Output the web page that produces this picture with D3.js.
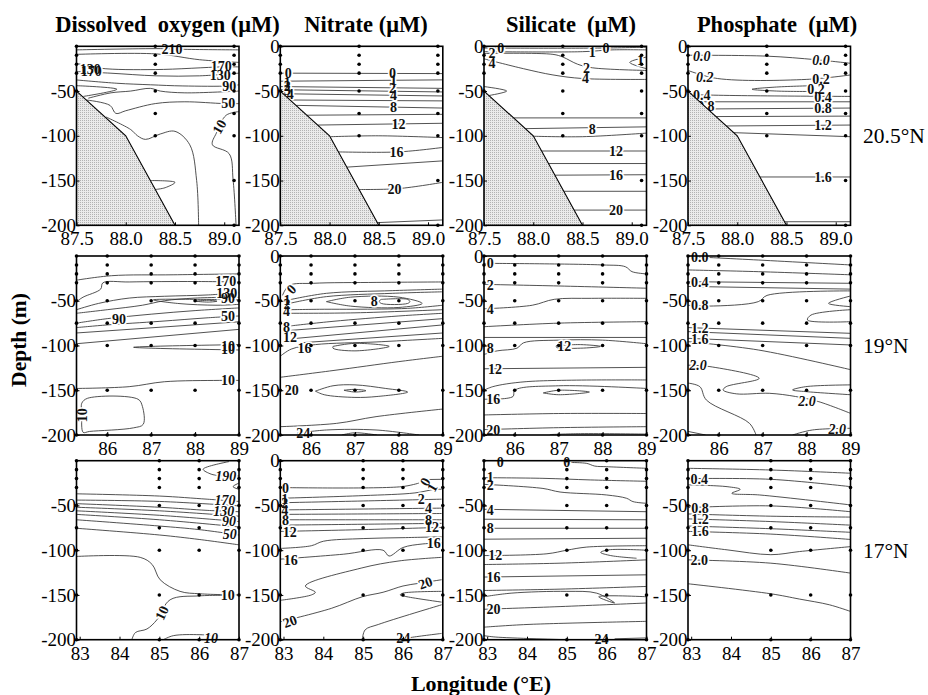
<!DOCTYPE html>
<html><head><meta charset="utf-8">
<script src="https://cdn.jsdelivr.net/npm/d3@7"></script>
<style>body{margin:0;background:#fff}svg{display:block}</style>
</head><body>
<svg id="chart" width="928" height="695"></svg>
<script>
// ---------------- DATA ----------------
const columnTitles = ["Dissolved  oxygen (μM)", "Nitrate (μM)", "Silicate  (μM)", "Phosphate  (μM)"];
const rowLatitudes = ["20.5°N", "19°N", "17°N"];
const lonDomains = [[87.5, 89.15], [85.3, 89], [82.92, 87]];
const lonTicks = [[87.5, 88.0, 88.5, 89.0], [86, 87, 88, 89], [83, 84, 85, 86, 87]];
const lonTickFormats = [".1f", "d", "d"];
const depthTicks = [0, 50, 100, 150, 200];
const zeroTickShown = [[false, true, true, true], [false, true, true, false], [false, true, false, false]];
const stationLons = [[87.5, 88.3, 89.1], [85.3, 86, 87, 88, 89], [82.92, 85, 86, 87]];
const stationDepths = [
  [[0, 10, 20, 30, 50], [0, 10, 20, 30, 50, 75, 100], [0, 10, 20, 30, 50, 75, 100, 150, 200]],
  [[0, 10, 20, 30, 50, 75, 100, 150, 200], [0, 10, 20, 30, 50, 75, 100, 150, 200], [0, 10, 20, 30, 50, 75, 100, 150, 200], [0, 10, 20, 30, 50, 75, 100, 150, 200], [0, 10, 20, 30, 50, 75, 100, 150, 200]],
  [[0, 10, 20, 30, 50, 75, 100, 150, 200], [0, 10, 20, 30, 50, 75, 100, 150, 200], [0, 10, 20, 30, 50, 75, 100, 150, 200], [0, 10, 20, 30, 50, 75, 100, 150, 200]]
];
const shelfProfileN205 = [[87.5, 50], [88.0, 100], [88.5, 200]];

// contour lines: [lon, depth(m)]
const oxygenN205 = [
  [[87.5,4],[88.35,2.6],[88.6,3.4],[89.15,4]],
  [[87.5,9],[88.31,8.5],[88.75,15],[89.15,18]],
  [[87.5,19],[87.74,24.5],[88.3,26],[88.98,23],[89.15,23]],
  [[87.5,28.3],[87.84,30],[88.31,33],[88.75,33],[89.15,30]],
  [[87.5,37.6],[87.91,41.3],[88.25,43],[88.58,44.3],[89.05,44.3],[89.15,43]],
  [[87.5,44],[87.91,48],[87.57,56]],
  [[87.62,58],[87.85,52],[88.05,50],[88.25,47],[88.35,50],[88.6,52],[89.15,50]],
  [[87.6,60],[87.84,66],[87.9,75],[88.0,72],[88.3,64],[88.6,62],[89.0,64],[89.15,64]],
  [[87.8,79],[88.05,93],[88.12,100],[88.2,104],[88.35,98],[88.5,95],[88.65,110],[88.72,150],[88.74,200]],
  [[89.15,73],[89.02,77],[88.92,97],[88.88,110],[89.05,120],[89.09,149],[89.12,200]],
  [[88.25,150],[88.5,152],[88.4,158],[88.3,160]]
];
const oxygenN205Labels = [
  [88.47,3,"210"],[88.97,22.5,"170"],[88.96,32,"130"],[89.05,44.5,"90"],[89.04,64,"50"],
  [88.95,90,"10",-60],[87.64,25.5,"130"],[87.65,27.5,"170"]
];

const nitrateN205 = [
  [[87.5,30],[89.15,30.5]],
  [[87.5,39],[89.15,37.5]],
  [[87.5,45],[89.15,47]],
  [[87.5,48.5],[89.15,51]],
  [[87.53,53],[89.15,55.5]],
  [[87.6,60],[89.15,61]],
  [[87.66,66],[89.15,69]],
  [[87.77,77],[89.15,76]],
  [[87.88,88],[89.15,86]],
  [[88.01,101],[88.5,100],[89.15,102]],
  [[88.09,118],[88.7,118],[89.15,113]],
  [[88.175,135],[89.15,128]],
  [[88.3,160],[88.7,159],[89.15,152]],
  [[88.485,197],[89.15,194]]
];
const nitrateN205Labels = [
  [87.58,30,"0"],[88.64,30,"0"],[87.57,39.5,"1"],[88.65,38,"1"],[87.57,44.5,"2"],[88.64,46.5,"2"],
  [87.57,48.5,"3"],[87.6,53,"4"],[88.65,54,"4"],[88.65,67.5,"8"],[88.7,86.8,"12"],[88.68,118,"16"],[88.66,159.3,"20"]
];

const silicateN205 = [
  [[87.5,2],[88.65,2],[89.15,1]],
  [[87.5,6],[88.5,6],[88.8,4],[89.15,4]],
  [[89.15,12],[88.98,18],[89.15,25]],
  [[87.5,8],[88.2,9],[88.3,12],[88.45,20],[88.6,24],[89.15,27]],
  [[87.5,14],[87.9,25],[88.2,32],[88.5,36],[89.15,37]],
  [[87.5,45],[87.73,50],[87.55,55]],
  [[87.8,80],[89.15,80]],
  [[87.92,92],[89.15,90]],
  [[88.0,100.5],[88.5,101],[89.15,97]],
  [[88.085,117],[89.15,117]],
  [[88.155,131],[89.15,131]],
  [[88.22,144],[89.15,143.5]],
  [[88.31,162],[89.15,162]],
  [[88.415,183],[89.15,183]]
];
const silicateN205Labels = [
  [87.67,2,"0"],[88.74,2,"0"],[88.6,6,"1"],[89.09,15,"1"],[87.58,7.5,"2"],[88.54,24.5,"2"],
  [87.58,19,"4"],[88.53,36,"4"],[88.6,92,"8"],[88.84,117,"12"],[88.84,143.5,"16"],[88.84,183,"20"]
];

const phosphateN205 = [
  [[87.5,10],[88.3,11],[88.8,15],[89.15,19]],
  [[87.5,27],[87.8,36],[88.7,37],[89.15,32]],
  [[88.78,44],[88.4,45.5],[88.15,48],[88.4,50],[88.78,50.5]],
  [[87.53,53],[87.6,54],[89.15,56]],
  [[87.62,62],[89.15,62]],
  [[87.7,70],[89.15,69]],
  [[87.785,78.5],[89.15,78]],
  [[87.89,89],[89.15,88]],
  [[87.965,96.5],[89.15,101]],
  [[88.23,146],[89.15,146]],
  [[88.48,196],[89.15,196]]
];
const phosphateN205Labels = [
  [87.64,11.5,"0.0",0,1],[88.85,15,"0.0",0,1],[87.67,34,"0.2",0,1],[88.85,37,"0.2"],[88.8,48,"0.2"],
  [87.64,54,"0.4"],[88.87,57,"0.4"],[87.68,67,"0.8"],[88.87,69,"0.8"],[88.87,88.5,"1.2"],[88.87,146,"1.6"]
];

const oxygenN19 = [
  [[85.3,27],[86.1,22],[87.5,21],[89,20]],
  [[85.3,51],[85.45,46],[85.85,37],[85.9,30],[86.5,29],[88,28.5],[89,29]],
  [[85.3,60],[85.8,53],[86.5,47],[87.3,45],[88.3,43.5],[89,41]],
  [[85.3,64],[86,60],[86.8,55],[87.3,50],[88,47],[89,46]],
  [[89,49],[88.2,48.5],[87.05,49],[87.6,53],[88.5,55],[89,54]],
  [[88,50.5],[88.3,49.5],[88.5,50.5],[88.3,51.5],[88,50.5]],
  [[85.3,75],[86,70],[87,65],[88,61],[89,58]],
  [[85.3,80],[86,77],[87.2,73],[88.3,69],[89,67]],
  [[85.3,86],[89,73.5]],
  [[85.3,98],[89,82]],
  [[89,99],[87,101],[86.6,102],[87,103],[89,105]],
  [[85.3,148],[86.5,146],[87.3,140.5],[88.55,139],[89,139]],
  [[85.42,175],[85.42,164.5],[85.55,159],[86.7,160],[86.8,168],[86.82,188],[86.6,192],[85.6,196],[85.45,197],[85.42,182]]
];
const oxygenN19Labels = [
  [88.7,28,"170"],[88.72,42,"130"],[88.75,47.5,"90"],[86.27,70.5,"90"],[88.75,67.5,"50"],
  [88.75,100.5,"10"],[88.75,104,"10"],[88.75,139,"10"],[85.42,178,"10",-90]
];

const nitrateN19 = [
  [[85.35,44],[85.5,33],[86.05,30.5],[87.5,29.5],[89,29]],
  [[85.5,49],[86.35,41.7],[87.85,38.7],[89,37]],
  [[85.5,53],[86.35,45.4],[87.85,41.7],[89,40]],
  [[85.5,60],[86.3,59.5],[87,59.5],[88.2,58.5],[89,55]],
  [[86.35,51],[86.9,46],[88,46],[88.53,53],[88,57.5],[86.9,56],[86.35,51]],
  [[87.6,48.5],[88.2,48.5],[88.25,51],[88.2,53],[87.6,53],[87.55,50.5],[87.6,48.5]],
  [[85.5,64],[87,63.5],[89,60]],
  [[85.55,78],[86.5,73],[88,67],[89,64]],
  [[85.55,83],[89,70]],
  [[85.67,92],[89,77]],
  [[85.75,97],[89,86]],
  [[85.3,112],[85.55,104],[86.1,99],[87.5,96],[89,92]],
  [[86.5,101],[87,97.6],[87.78,101],[87,106],[86.5,103],[86.5,101]],
  [[85.3,135.5],[86.5,128],[88,118],[89,112]],
  [[86.1,151],[86.5,145],[87,144],[87.7,148],[88.2,152],[87.5,157],[87,158],[86.3,155],[86.1,151]],
  [[86.75,150],[87,149],[87.25,150.5],[87,152],[86.75,150]],
  [[85.3,190.7],[86.58,187],[87.48,179.5],[89,171]],
  [[85.68,198],[86.35,194.4],[87.48,194.4],[88.46,200]],
  [[86.7,200],[87,197.5],[87.5,200]]
];
const nitrateN19Labels = [
  [85.55,37,"0",-45],[85.45,49.5,"1"],[85.45,53.5,"2"],[85.44,61,"4"],[87.44,50,"8"],[85.44,79,"8"],
  [85.52,91,"12"],[85.85,102.5,"16"],[85.56,150,"20"],[85.82,197.5,"24"]
];

const silicateN19 = [
  [[85.3,8.2],[88,10],[88.52,12],[88.67,17.5],[89,20]],
  [[85.3,31.7],[87,33.5],[89,36]],
  [[85.3,59],[86.4,55],[86.9,48.4],[87.75,47.3],[89,47.3]],
  [[85.3,79],[87,75],[89,73.4]],
  [[85.3,91],[89,91]],
  [[85.3,110],[85.6,106],[86.05,103],[86.2,97],[87,94],[88,94],[89,98]],
  [[86.95,100],[87.5,99],[87.95,101],[87.5,103],[86.95,102],[86.95,100]],
  [[85.3,126],[89,124.4]],
  [[85.3,150],[85.5,146],[86.26,140.4],[89,138.5]],
  [[85.3,160],[85.96,157],[86,150],[87,145],[89,148]],
  [[86.65,153],[87,150],[87.7,152],[87,155],[86.65,153]],
  [[85.3,177.6],[87,176],[89,176]],
  [[85.3,194],[87,191.8],[89,190.7]],
  [[86.8,199.5],[87.5,198.5],[89,199]]
];
const silicateN19Labels = [
  [85.44,8.2,"0"],[85.44,32.4,"2"],[85.44,59.6,"4"],[85.44,102.4,"8"],[87.13,101,"12"],
  [85.55,126,"12"],[85.51,160,"16"],[85.51,194,"20"]
];

const phosphateN19 = [
  [[85.3,0.5],[86.9,4.5],[89,10]],
  [[85.3,15.6],[86.9,17.5],[89,21]],
  [[85.3,28.7],[89,30.5]],
  [[85.3,34],[89,37]],
  [[85.3,55],[85.76,56],[86.9,51],[87.1,44],[89,39]],
  [[89,44.7],[88.5,52.9],[89,56.6]],
  [[89,60],[88.1,66],[88.02,71.5],[89,73.4]],
  [[85.3,80],[89,86.4]],
  [[85.3,84.5],[89,92]],
  [[85.3,92],[89,99.4]],
  [[85.3,95.7],[86.9,105],[89,127]],
  [[85.3,122],[85.8,123.6],[86.92,136.7],[86.17,146],[86.1,149.7],[86.4,154],[87.15,153.4],[87.75,157],[88.28,162.8],[89,175.8]],
  [[89,144],[87.98,146],[87.68,149.7],[87.98,151.5],[89,155]],
  [[85.3,142],[85.57,146],[85.72,161],[86.7,187],[86.85,200]],
  [[87.68,200],[88.13,194.4],[89,192.5]],
  [[85.3,196],[85.7,200]]
];
const phosphateN19Labels = [
  [85.57,1,"0.0"],[85.57,28.7,"0.4"],[85.57,55,"0.8"],[85.57,81,"1.2"],[85.57,93,"1.6"],
  [85.53,122,"2.0",0,1],[88.01,162.5,"2.0",0,1],[88.7,193.5,"2.0",0,1]
];

const oxygenN17 = [
  [[86.75,1],[86.1,9.5],[86.3,15],[86.5,16.5],[87,17]],
  [[87,25],[86.85,29],[87,32]],
  [[82.92,37],[85,39.5],[86.2,43],[87,45.5]],
  [[82.92,44],[85,45.5],[87,50.5]],
  [[82.92,48],[85,52],[86.2,55.5],[87,57]],
  [[82.92,52],[85,56],[87,62]],
  [[82.92,56],[85,61],[87,68]],
  [[82.92,60],[85,66],[87,74]],
  [[82.92,66],[85,73],[86,77],[87,83]],
  [[82.92,75.5],[85,83],[86,88],[87,94]],
  [[82.92,107],[84.52,108],[84.82,116],[85.02,133],[85.52,146],[86.02,148.7],[87,150]],
  [[84.31,200],[84.4,192],[84.69,188],[84.94,177.7],[85.27,155.4],[86.02,151],[86.85,150.5]],
  [[85.1,200],[85.35,195.5],[86.02,194.4],[86.5,196]]
];
const oxygenN17Labels = [
  [86.67,17,"190",0,1],[86.65,44,"170",0,1],[86.62,56.5,"130",0,1],[86.75,67,"90",0,1],[86.77,82,"50",0,1],
  [86.72,150,"10"],[85.06,170,"10",-65],[86.3,198.5,"10",0,1]
];

const nitrateN17 = [
  [[82.92,30],[85.97,29],[86.4,25]],
  [[86.65,21],[86.97,20.8]],
  [[82.92,42],[85,39],[86.3,36],[86.8,32],[86.97,32]],
  [[82.92,47],[85,45],[86.97,43]],
  [[82.92,55],[85,54],[86.97,53]],
  [[82.92,60],[85,59.5],[86.97,59]],
  [[82.92,66],[85,66],[86.97,66]],
  [[82.92,72],[85,71],[86.97,70]],
  [[82.92,79],[85,77],[86.97,74.5]],
  [[82.92,98],[83.7,95],[84,90],[85,87],[86,86],[86.97,85]],
  [[82.92,110],[84.5,104.5],[85.5,100],[85.65,106.5],[86,97],[86.5,93],[86.97,92]],
  [[82.92,156],[83.7,150],[83.8,147],[83.55,140],[84.95,120],[85.9,112],[86.97,108]],
  [[82.92,180],[84.2,165],[84.98,152],[85.5,147],[86,140],[86.4,137],[86.97,133]],
  [[86.97,146],[86,148],[85.93,150],[86.1,152],[86.97,158]],
  [[84.98,200],[85.05,189],[85.38,183],[86.97,161]],
  [[85.9,200],[86.2,197.5],[86.97,193]]
];
const nitrateN17Labels = [
  [83.05,30.5,"0"],[86.55,23.5,"0",-60],[83.03,43,"1"],[86.73,30,"1",-60],[83.03,47.5,"2"],[86.46,43,"2"],
  [83.03,55,"4"],[86.64,53,"4"],[83.05,66,"8"],[86.64,66,"8"],[83.16,80,"12"],[86.73,74.5,"12"],
  [83.18,110.8,"16"],[86.77,92,"16"],[83.16,179.5,"20",-20],[86.56,136.5,"20",-20],[86.01,198,"24"]
];

const silicateN17 = [
  [[85.1,2],[85.5,3],[85.7,6],[86,6.7],[87,8.5]],
  [[82.92,19],[84.4,19.7],[85.6,21.5],[87,23]],
  [[82.92,26.4],[84.4,31],[84.83,35],[86,38.3],[86.5,42],[86.66,45.7],[87,47.6]],
  [[82.92,54.3],[87,57]],
  [[82.92,65.4],[87,66]],
  [[82.92,75.5],[87,75.5]],
  [[82.92,87.7],[87,86.6]],
  [[82.92,106],[84.5,104],[85,100],[85.5,96.5],[87,95]],
  [[87,100],[86.05,99.6],[85.85,102.5],[86.1,106],[86.75,109]],
  [[82.92,116],[84.83,114.5],[87,110.8]],
  [[82.92,130],[87,127.5]],
  [[82.92,145],[84.83,143.5],[87,140.5]],
  [[82.92,152],[83.6,148],[85,146],[85.75,148],[86.2,159],[85.8,152],[87,152]],
  [[82.92,166],[84.83,163],[87,159]],
  [[82.92,186],[84,183],[87,179.5]],
  [[82.92,195.5],[83.2,197],[85,200]],
  [[86.2,199],[87,198]]
];
const silicateN17Labels = [
  [83.33,1.5,"0"],[85.0,1.5,"0"],[83.08,18.5,"1"],[83.08,27,"2"],[83.08,55,"4"],[83.08,75.5,"8"],
  [83.2,106,"12"],[83.16,130,"16"],[83.16,166,"20"],[85.87,199,"24"]
];

const phosphateN17 = [
  [[82.92,8.5],[85,10.4],[87,14]],
  [[82.92,20],[85,20.8],[87,29]],
  [[82.92,27],[83.9,29],[84.23,32],[84.02,36.4],[84.72,38.3],[87,49.4]],
  [[82.92,52.4],[85,50.5],[87,57]],
  [[82.92,59.5],[85,62],[87,63]],
  [[82.92,65],[85,68],[87,72]],
  [[82.92,73],[85,76],[87,80]],
  [[82.92,79],[85,82],[87,88]],
  [[82.92,94],[83.9,99.6],[85,105],[85.72,101.5],[87,96]],
  [[82.92,110.8],[85,114.5],[87,125.6]],
  [[82.92,137.5],[85,148.7],[85.72,154.6],[86.47,161],[87,168.4]]
];
const phosphateN17Labels = [
  [83.2,20.8,"0.4"],[83.22,53,"0.8"],[83.22,65,"1.2"],[83.22,79,"1.6"],[83.2,111,"2.0"]
];

const panelLines = [
  [oxygenN205, nitrateN205, silicateN205, phosphateN205],
  [oxygenN19, nitrateN19, silicateN19, phosphateN19],
  [oxygenN17, nitrateN17, silicateN17, phosphateN17]
];
const panelLabels = [
  [oxygenN205Labels, nitrateN205Labels, silicateN205Labels, phosphateN205Labels],
  [oxygenN19Labels, nitrateN19Labels, silicateN19Labels, phosphateN19Labels],
  [oxygenN17Labels, nitrateN17Labels, silicateN17Labels, phosphateN17Labels]
];

// ---------------- LAYOUT ----------------
const colLeft = [76.5, 280.3, 484, 688], panelW = 162.5;
const rowTop = [46.3, 256, 460.7], panelH = 179;
const titleX = [167.5, 366, 571, 777];
const serif = "'Liberation Serif','Times New Roman',serif";

const svg = d3.select("#chart");
const defs = svg.append("defs");
const pat = defs.append("pattern").attr("id", "shelfFill")
  .attr("width", 2).attr("height", 2).attr("patternUnits", "userSpaceOnUse");
pat.append("rect").attr("width", 2).attr("height", 2).attr("fill", "#eaeaea");
pat.append("rect").attr("width", 1).attr("height", 1).attr("fill", "#b2b2b2");

// titles
svg.append("g").selectAll("text").data(columnTitles).join("text")
  .attr("x", (d, i) => titleX[i]).attr("y", 31.5)
  .attr("text-anchor", "middle").style("white-space", "pre")
  .attr("font-family", serif).attr("font-weight", "bold").attr("font-size", 22.5)
  .text(d => d);

// row labels
svg.append("g").selectAll("text").data(rowLatitudes).join("text")
  .attr("x", 863).attr("y", (d, i) => rowTop[i] + 97)
  .attr("font-family", serif).attr("font-size", 21.5)
  .text(d => d);

svg.append("text").attr("transform", "translate(25.5,340) rotate(-90)")
  .attr("text-anchor", "middle").attr("font-family", serif).attr("font-weight", "bold")
  .attr("font-size", 21.5).text("Depth (m)");
svg.append("text").attr("x", 481).attr("y", 691)
  .attr("text-anchor", "middle").attr("font-family", serif).attr("font-weight", "bold")
  .attr("font-size", 22).text("Longitude (°E)");

for (let r = 0; r < 3; r++) {
  for (let c = 0; c < 4; c++) {
    const L = colLeft[c], T = rowTop[r];
    const x = d3.scaleLinear().domain(lonDomains[r]).range([L, L + panelW]);
    const y = d3.scaleLinear().domain([0, 200]).range([T, T + panelH]);
    const g = svg.append("g");
    const cid = `clip-${r}-${c}`;
    defs.append("clipPath").attr("id", cid).append("rect")
      .attr("x", L).attr("y", T).attr("width", panelW).attr("height", panelH);

    const line = d3.line().x(d => x(d[0])).y(d => y(d[1])).curve(d3.curveCatmullRom.alpha(0.5));
    g.append("g").attr("clip-path", `url(#${cid})`)
      .selectAll("path").data(panelLines[r][c]).join("path")
      .attr("d", line).attr("fill", "none").attr("stroke", "#333").attr("stroke-width", 0.85);

    // labels: halo pass then text pass
    const labs = panelLabels[r][c];
    const placeLab = sel => sel
      .attr("transform", d => `translate(${x(d[0])},${y(d[1])}) rotate(${d[3] || 0})`)
      .attr("text-anchor", "middle").attr("dy", "0.35em")
      .attr("font-family", serif).attr("font-weight", "bold").attr("font-size", 14)
      .attr("font-style", d => d[4] ? "italic" : "normal")
      .text(d => d[2]);
    g.append("g").selectAll("text").data(labs).join("text").call(placeLab)
      .attr("fill", "#fff").attr("stroke", "#fff").attr("stroke-width", 3.2).attr("stroke-linejoin", "round");
    g.append("g").selectAll("text").data(labs).join("text").call(placeLab).attr("fill", "#111");

    // shelf
    if (r === 0) {
      const poly = shelfProfileN205.concat([[lonDomains[0][0], 200]]);
      const straight = d3.line().x(d => x(d[0])).y(d => y(d[1]));
      g.append("path").attr("d", straight(poly) + "Z").attr("fill", "url(#shelfFill)").attr("stroke", "none");
      g.append("path").attr("d", straight(shelfProfileN205)).attr("fill", "none")
        .attr("stroke", "#000").attr("stroke-width", 1.1);
    }

    // frame
    g.append("rect").attr("x", L).attr("y", T).attr("width", panelW).attr("height", panelH)
      .attr("fill", "none").attr("stroke", "#000").attr("stroke-width", 1.6);

    // stations
    const pts = [];
    stationLons[r].forEach((lon, i) => stationDepths[r][i].forEach(d => pts.push([lon, d])));
    g.append("g").selectAll("circle").data(pts).join("circle")
      .attr("cx", d => x(d[0])).attr("cy", d => y(d[1])).attr("r", 1.8).attr("fill", "#000");

    // axes
    const yTicks = zeroTickShown[r][c] ? depthTicks : depthTicks.slice(1);
    const ya = g.append("g").attr("transform", `translate(${L},0)`)
      .call(d3.axisLeft(y).tickValues(yTicks).tickFormat(d => d === 0 ? "0" : "-" + d)
        .tickSizeInner(-3).tickSizeOuter(0).tickPadding(0.5));
    const xa = g.append("g").attr("transform", `translate(0,${T + panelH})`)
      .call(d3.axisBottom(x).tickValues(lonTicks[r]).tickFormat(d3.format(lonTickFormats[r]))
        .tickSizeInner(-3).tickSizeOuter(0).tickPadding(6.5));
    [ya, xa].forEach(a => {
      a.select(".domain").remove();
      a.selectAll("line").attr("stroke", "#000").attr("stroke-width", 1);
      a.selectAll("text").attr("font-family", serif).attr("font-size", 19).attr("fill", "#000");
    });
  }
}
</script>
</body></html>
